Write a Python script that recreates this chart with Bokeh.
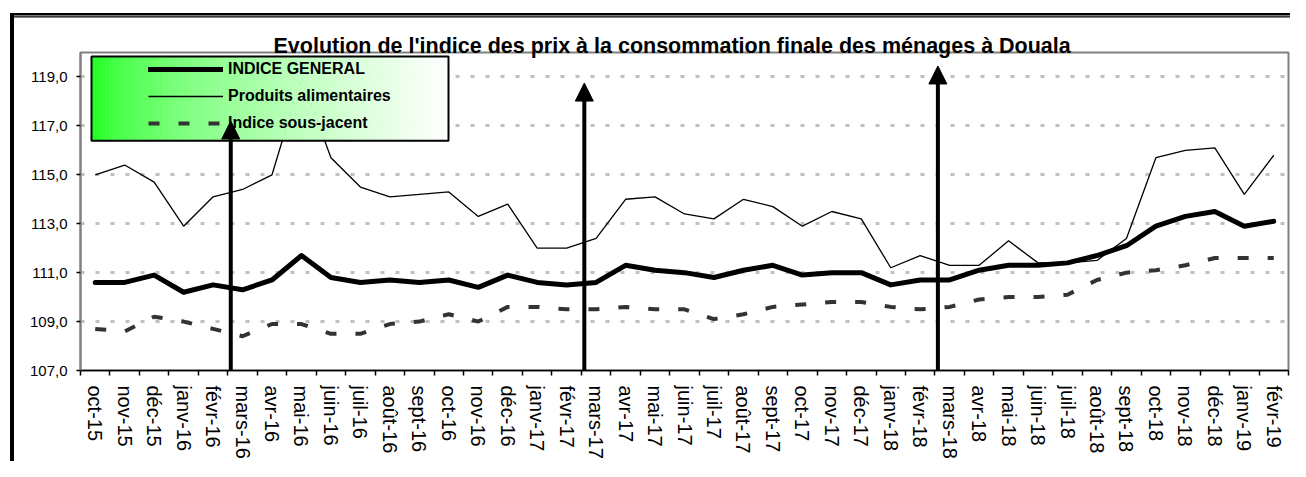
import math
import numpy as np
from bokeh.plotting import figure
from bokeh.models import (Range1d, FixedTicker, CustomJSTickFormatter, Legend, LegendItem,
                          Arrow, NormalHead)
from bokeh.embed import file_html
from bokeh.resources import INLINE

# ---------------- data ----------------
months = ["oct-15", "nov-15", "déc-15", "janv-16", "févr-16", "mars-16", "avr-16", "mai-16",
          "juin-16", "juil-16", "août-16", "sept-16", "oct-16", "nov-16", "déc-16", "janv-17",
          "févr-17", "mars-17", "avr-17", "mai-17", "juin-17", "juil-17", "août-17", "sept-17",
          "oct-17", "nov-17", "déc-17", "janv-18", "févr-18", "mars-18", "avr-18", "mai-18",
          "juin-18", "juil-18", "août-18", "sept-18", "oct-18", "nov-18", "déc-18", "janv-19",
          "févr-19"]

general = [110.6, 110.6, 110.9, 110.2, 110.5, 110.3, 110.7, 111.7, 110.8, 110.6, 110.7, 110.6,
           110.7, 110.4, 110.9, 110.6, 110.5, 110.6, 111.3, 111.1, 111.0, 110.8, 111.1, 111.3,
           110.9, 111.0, 111.0, 110.5, 110.7, 110.7, 111.1, 111.3, 111.3, 111.4, 111.7, 112.1,
           112.9, 113.3, 113.5, 112.9, 113.1]

food = [115.0, 115.4, 114.7, 112.9, 114.1, 114.4, 115.0, 119.0, 115.7, 114.5, 114.1, 114.2,
        114.3, 113.3, 113.8, 112.0, 112.0, 112.4, 114.0, 114.1, 113.4, 113.2, 114.0, 113.7,
        112.9, 113.5, 113.2, 111.2, 111.7, 111.3, 111.3, 112.3, 111.4, 111.4, 111.5, 112.4,
        115.7, 116.0, 116.1, 114.2, 115.8]

underlying = [108.7, 108.6, 109.2, 109.0, 108.7, 108.4, 108.9, 108.9, 108.5, 108.5, 108.9, 109.0,
              109.3, 109.0, 109.6, 109.6, 109.5, 109.5, 109.6, 109.5, 109.5, 109.1, 109.3, 109.6,
              109.7, 109.8, 109.8, 109.6, 109.5, 109.6, 109.9, 110.0, 110.0, 110.1, 110.7, 111.0,
              111.1, 111.3, 111.6, 111.6, 111.6]

series_names = ["INDICE GENERAL", "Produits alimentaires", "Indice sous-jacent"]
y_ticks = [107, 109, 111, 113, 115, 117, 119]
y_min, y_max = 107, 120
title_text = "Evolution de l'indice des prix à la consommation finale des ménages à Douala"
arrow_months = ["mars-16", "mars-17", "mars-18"]
arrow_tips = [117.2, 118.75, 119.45]

# ---------------- layout ----------------
W, H = 1290, 461
FL, FR, FT, FB = 80, 1288, 52, 373
FONT = "Liberation Sans"
nx = len(months)


def dx(px):
    return (px - FL) / (FR - FL) * nx


def dy(py):
    return y_min + (FB - py) / (FB - FT) * (y_max - y_min)


p = figure(width=W, height=H, output_backend="svg", toolbar_location=None,
           x_range=Range1d(0, nx), y_range=Range1d(y_min, y_max),
           min_border_left=FL, min_border_right=W - FR, min_border_top=FT,
           min_border_bottom=H - FB)
p.background_fill_color = "white"
p.border_fill_alpha = 0
p.outline_line_color = "#808080"
p.outline_line_width = 2

# outer page frame (double line on top, thick line on the left)
p.styles = {
    "background-color": "white",
    "box-shadow": ("inset 0 13px 0 0 white, inset 10px 0 0 0 white, "
                   "inset 14px 0 0 0 black, inset 0 15.5px 0 0 black, "
                   "inset 0 16.3px 0 0 white, inset 0 17.6px 0 0 black"),
}

xs = [i + 0.5 for i in range(nx)]

r_und = p.line(xs, underlying, line_color="#333333", line_width=4, line_dash="11 19")
r_food = p.line(xs, food, line_color="black", line_width=1.3)
r_gen = p.line(xs, general, line_color="black", line_width=5, line_join="round",
               line_cap="round")

# ---------------- title ----------------
p.title.text = title_text
p.title.align = "left"
p.title.offset = 193
p.title.standoff = -11
p.title.text_font = FONT
p.title.text_font_style = "bold"
p.title.text_font_size = "21.5px"
p.title.text_color = "black"

# ---------------- axes ----------------
p.xaxis.ticker = FixedTicker(ticks=xs, minor_ticks=list(range(nx + 1)))
p.xaxis.formatter = CustomJSTickFormatter(args=dict(labels=months),
                                          code="return labels[Math.floor(tick)];")
p.xaxis.major_label_orientation = -math.pi / 2
p.xaxis.major_tick_line_color = None
p.xaxis.major_tick_out = 0
p.xaxis.major_tick_in = 0
p.xaxis.minor_tick_line_color = "black"
p.xaxis.minor_tick_line_width = 1.5
p.xaxis.minor_tick_out = 5
p.xaxis.minor_tick_in = 0
p.xaxis.axis_line_color = "black"
p.xaxis.axis_line_width = 1.5
p.xaxis.major_label_text_font = FONT
p.xaxis.major_label_text_font_size = "20px"
p.xaxis.major_label_text_color = "black"
p.xaxis.major_label_standoff = 10

p.yaxis.ticker = FixedTicker(ticks=y_ticks)
p.yaxis.formatter = CustomJSTickFormatter(code="return tick.toFixed(1).replace('.', ',');")
p.yaxis.major_tick_out = 4
p.yaxis.major_tick_in = 0
p.yaxis.major_tick_line_color = "black"
p.yaxis.major_tick_line_width = 1.5
p.yaxis.minor_tick_line_color = None
p.yaxis.axis_line_color = "#808080"
p.yaxis.axis_line_width = 2
p.yaxis.major_label_text_font = FONT
p.yaxis.major_label_text_font_size = "15px"
p.yaxis.major_label_text_color = "black"
p.yaxis.major_label_standoff = 9

p.xgrid.visible = False
p.ygrid.ticker = FixedTicker(ticks=y_ticks[1:])
p.ygrid.grid_line_color = "#c0c0c0"
p.ygrid.grid_line_width = 3
p.ygrid.grid_line_dash = "4 11"

# ---------------- legend box (gradient) ----------------
bx0, bx1 = dx(91), dx(448)
by0, by1 = dy(141), dy(56)
n_sl = 120
edges = np.linspace(bx0, bx1, n_sl + 1)
cols = []
for k in range(n_sl):
    t = ((k + 0.5) / n_sl) ** 0.6
    rb = int(round(20 + t * 235))
    cols.append("#%02x%02x%02x" % (rb, 255, rb))
p.quad(left=edges[:-1], right=edges[1:], bottom=by0, top=by1, fill_color=cols,
       line_color=cols, line_width=0.6)
p.quad(left=bx0, right=bx1, bottom=by0, top=by1, fill_color=None, line_color="black",
       line_width=2)

legend = Legend(items=[LegendItem(label=series_names[0], renderers=[r_gen]),
                       LegendItem(label=series_names[1], renderers=[r_food]),
                       LegendItem(label=series_names[2], renderers=[r_und])],
                location=(68, 237), orientation="vertical", margin=0, padding=0, spacing=7,
                glyph_width=75, glyph_height=20, label_height=20, label_standoff=5,
                label_text_font=FONT, label_text_font_style="bold",
                label_text_font_size="16px", label_text_color="black",
                border_line_color=None, background_fill_alpha=0)
p.add_layout(legend)

# ---------------- arrows ----------------
for m, tip in zip(arrow_months, arrow_tips):
    ax = months.index(m) + 0.1
    p.add_layout(Arrow(end=NormalHead(size=18, fill_color="black", line_color="black"),
                       x_start=ax, y_start=y_min, x_end=ax, y_end=tip,
                       line_width=4, line_color="black"))

open("out.html", "w").write(file_html(p, INLINE))
